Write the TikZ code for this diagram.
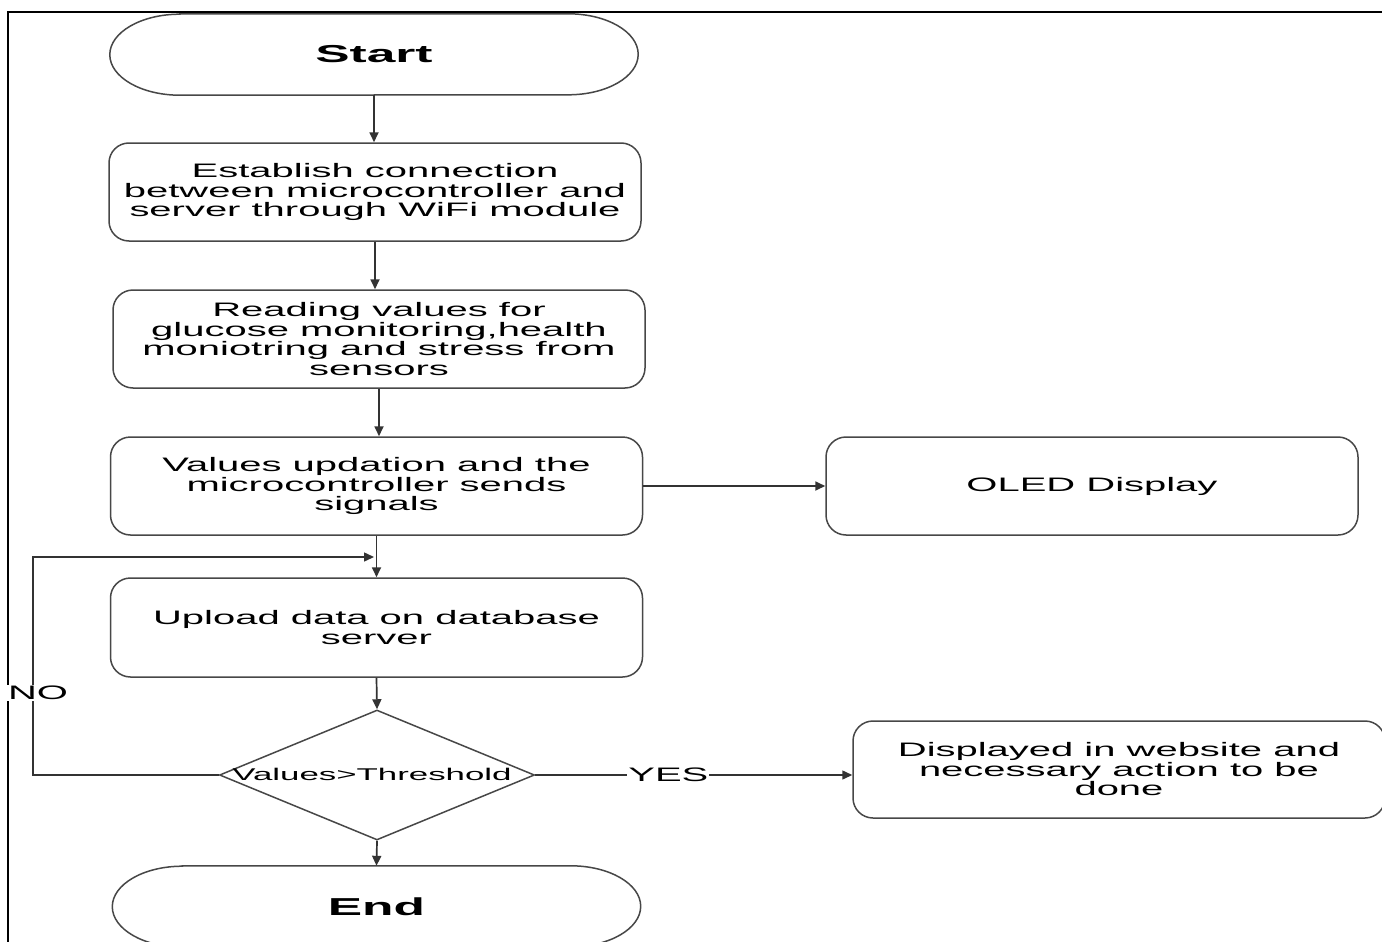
\documentclass[tikz,border=0pt]{standalone}
\usepackage{fontspec}
\newfontfamily\wf[FakeStretch=2.05]{Liberation Sans}
\newfontfamily\wfb[FakeStretch=2.1]{Liberation Sans Bold}
\usetikzlibrary{shapes.geometric,arrows.meta}
\newcommand{\mytxt}{\wf\fontsize{19.5}{19.5}\selectfont}
\newcommand{\termpath}[1]{\draw[lin] ([xshift=70pt]#1.north west) -- ([xshift=-70pt]#1.north east) arc[start angle=90,end angle=-90,x radius=70pt,y radius=40.5pt] -- ([xshift=70pt]#1.south west) arc[start angle=270,end angle=90,x radius=70pt,y radius=40.5pt] -- cycle;}
\begin{document}
\begin{tikzpicture}[x=1pt,y=-1pt,
  lin/.style={draw=black!72, line width=1.5pt},
  arr/.style={draw=black!80, line width=1.7pt, -{Triangle[length=10pt,width=9pt]}},
  proc/.style={lin, rounded corners=20pt, minimum width=532pt, minimum height=98pt, align=center, font=\mytxt, inner sep=0pt, text=black},
  term/.style={draw=none, minimum width=528pt, minimum height=81pt, inner sep=0pt, font=\wfb\fontsize{24.5}{24.5}\selectfont},
  lbl/.style={fill=white, inner sep=1pt, font=\mytxt, text=black}
]
\clip (0,0) rectangle (1382,942);
\fill[white] (0,0) rectangle (1382,942);
% frame
\draw[black, line width=2pt] (8,950) -- (8,12) -- (1390,12);

% nodes
\node[term] (start) at (374,54.5) {Start};
\termpath{start}
\node[proc] (b1) at (375,192) {Establish connection\\between microcontroller and\\server through WiFi module};
\node[proc] (b2) at (379,339) {Reading values for\\glucose monitoring,health\\moniotring and stress from\\sensors};
\node[proc] (b3) at (376.5,486) {Values updation and the\\microcontroller sends\\signals};
\node[proc] (oled) at (1092,486) {OLED Display};
\node[proc, minimum height=99pt] (b4) at (376.5,627.5) {Upload data on database\\server};
\node[lin, diamond, minimum width=315pt, minimum height=130pt, inner sep=0pt] (dec) at (377,775) {};
\node[font=\wf\fontsize{17}{17}\selectfont, inner sep=0pt] (dect) at (372,774) {Values>Threshold};
\node[proc, minimum height=97pt] (disp) at (1119,769.5) {Displayed in website and\\necessary action to be\\done};
\node[term] (endn) at (376.5,906.5) {End};
\termpath{endn}

\coordinate (noX) at (33,557);
\coordinate (loopin) at (374,557);

% connectors
\draw[arr] (start.south) -- (start.south |- b1.north);
\draw[arr] (b1.south) -- (b1.south |- b2.north);
\draw[arr] (b2.south) -- (b2.south |- b3.north);
\draw[arr] (b3.east) -- (oled.west);
\draw[arr] (b3.south) -- (b4.north);
\draw[arr] (b4.south) -- (dec.north);
\draw[arr, line width=1.5pt] (dec.west) -| (noX) -- (loopin);
\node[lbl] (no) at (38,693) {NO};
\draw[arr, line width=1.5pt] (dec.east) -- node[lbl, pos=0.42] (yes) {YES} (dec.east -| disp.west);
\draw[arr] (dec.south) -- (endn.north);
\end{tikzpicture}
\end{document}
